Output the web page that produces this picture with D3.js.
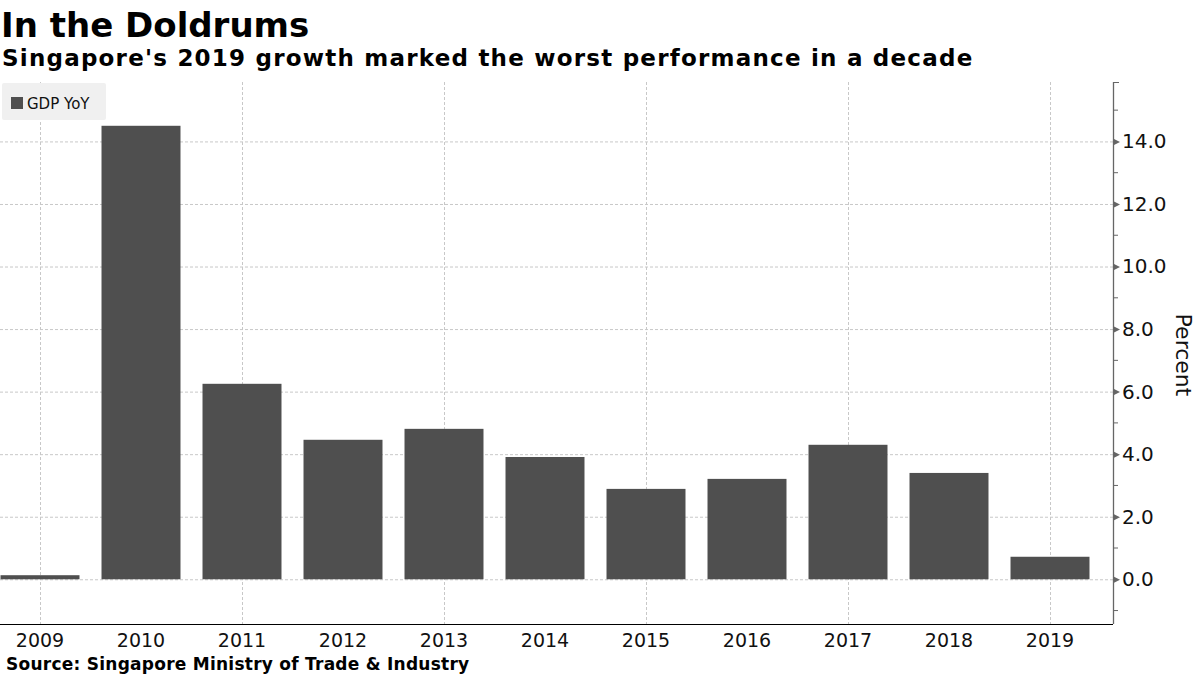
<!DOCTYPE html>
<html><head><meta charset="utf-8">
<script src="https://cdn.jsdelivr.net/npm/d3@7"></script>
<style>
body{margin:0;background:#fff;}
svg{display:block;font-family:"DejaVu Sans",sans-serif;}
</style></head>
<body><svg id="c" width="1200" height="675"></svg>
<script>
const years = ["2009","2010","2011","2012","2013","2014","2015","2016","2017","2018","2019"];
const gdpYoY = [0.13, 14.5, 6.25, 4.46, 4.81, 3.91, 2.89, 3.21, 4.3, 3.4, 0.72];
const majorTicks = [0, 2, 4, 6, 8, 10, 12, 14];
const minorTicks = [-1, 1, 3, 5, 7, 9, 11, 13, 15];
const gridYears = ["2009","2011","2013","2015","2017","2019"];

const svg = d3.select("#c");
const plotLeft = 0, plotRight = 1113, plotTop = 82, plotBottom = 624;
const x = d3.scaleBand().domain(years).range([-10.5, 1100.5]).paddingInner(0.218).paddingOuter(0.109);
const y = d3.scaleLinear().domain([-1.43, 15.9]).range([plotBottom, plotTop]);

// gridlines
svg.append("g").selectAll("line").data(majorTicks).join("line")
  .attr("x1", plotLeft).attr("x2", plotRight)
  .attr("y1", d => y(d)+0.5).attr("y2", d => y(d)+0.5)
  .attr("stroke", "#c8c8c8").attr("stroke-dasharray", "3,2").attr("stroke-width", 1);
svg.append("g").selectAll("line").data(gridYears).join("line")
  .attr("x1", d => Math.round(x(d)+x.bandwidth()/2)+0.5).attr("x2", d => Math.round(x(d)+x.bandwidth()/2)+0.5)
  .attr("y1", plotTop).attr("y2", plotBottom)
  .attr("stroke", "#c8c8c8").attr("stroke-dasharray", "3,2").attr("stroke-width", 1);

// bars
svg.append("g").selectAll("rect").data(years).join("rect")
  .attr("x", d => x(d)).attr("width", x.bandwidth())
  .attr("y", (d,i) => y(Math.max(0, gdpYoY[i])))
  .attr("height", (d,i) => Math.abs(y(gdpYoY[i]) - y(0)))
  .attr("fill", "#4f4f4f");

// x axis
const xAxis = d3.axisBottom(x).tickSize(0).tickPadding(10);
const gx = svg.append("g").attr("transform", `translate(0,${plotBottom})`).call(xAxis);
gx.select(".domain").remove();
gx.append("line").attr("x1", plotLeft).attr("x2", plotRight).attr("y1", 0.5).attr("y2", 0.5).attr("stroke", "#000").attr("stroke-width", 1.2);
gx.selectAll("text").attr("font-size", 19).attr("fill", "#111").attr("font-family", "DejaVu Sans");

// y axis (right)
const yAxis = d3.axisRight(y).tickValues(majorTicks).tickFormat(d3.format(".1f")).tickSize(0).tickPadding(9);
const gy = svg.append("g").attr("transform", `translate(${plotRight},0)`).call(yAxis);
gy.select(".domain").remove();
gy.append("line").attr("x1", 0.5).attr("x2", 0.5).attr("y1", plotTop).attr("y2", plotBottom).attr("stroke", "#666").attr("stroke-width", 1.3);
gy.selectAll(".tick text").attr("font-size", 20).attr("fill", "#111").attr("font-family", "DejaVu Sans");
gy.selectAll(".tick").append("path").attr("d", "M0,-3.5L7,0L0,3.5Z").attr("fill", "#666");
gy.append("g").selectAll("line").data(minorTicks).join("line")
  .attr("x1", 0).attr("x2", 5).attr("y1", d => y(d)).attr("y2", d => y(d))
  .attr("stroke", "#666").attr("stroke-width", 1);
gy.append("g").selectAll("line").data([plotTop]).join("line")
  .attr("x1", 0).attr("x2", 6).attr("y1", d => d+0.5).attr("y2", d => d+0.5)
  .attr("stroke", "#666").attr("stroke-width", 1);

// y label
svg.append("text").attr("transform", "translate(1176,355) rotate(90)")
  .attr("text-anchor", "middle").attr("font-size", 22).attr("fill", "#111").text("Percent");

// legend
const lg = svg.append("g");
lg.append("rect").attr("x", 2).attr("y", 83).attr("width", 104).attr("height", 37).attr("rx", 2).attr("fill", "#f0f0f0");
lg.append("rect").attr("x", 11).attr("y", 97).attr("width", 12).attr("height", 12).attr("fill", "#4f4f4f");
lg.append("text").attr("x", 27).attr("y", 109).attr("font-size", 15).attr("fill", "#111").text("GDP YoY");

// titles
svg.append("text").attr("x", 1).attr("y", 37).attr("font-size", 34).attr("font-weight", "bold").attr("fill", "#000").text("In the Doldrums");
svg.append("text").attr("x", 2).attr("y", 66).attr("font-size", 23).attr("letter-spacing", 1.22).attr("font-weight", "bold").attr("fill", "#000").text("Singapore's 2019 growth marked the worst performance in a decade");
svg.append("text").attr("x", 6).attr("y", 670).attr("font-size", 17).attr("letter-spacing", 0.25).attr("font-weight", "bold").attr("fill", "#000").text("Source: Singapore Ministry of Trade & Industry");
</script></body></html>
